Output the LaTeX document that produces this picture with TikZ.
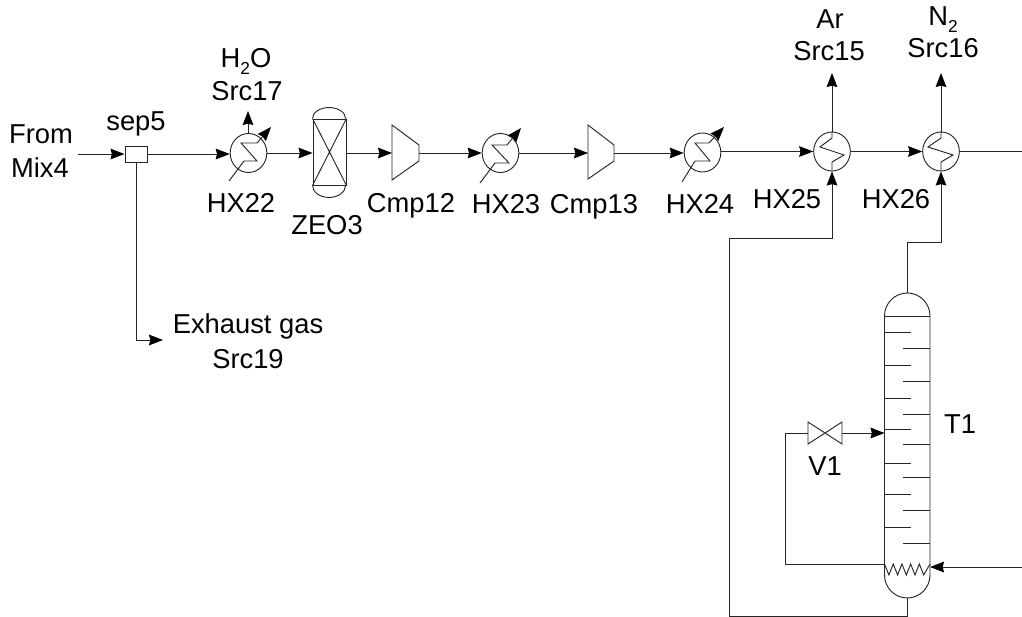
\documentclass[tikz,border=0pt]{standalone}
\usepackage{fontspec}
\setmainfont{Liberation Sans}
\usetikzlibrary{arrows.meta,shapes.geometric}
\newcommand{\subtwo}{\raisebox{-0.22em}{\fontsize{13pt}{14pt}\selectfont 2}}
\tikzset{
  x=0.75pt,y=-0.75pt,
  ln/.style={draw=black!85,line width=0.7pt},
  flow/.style={ln,-{Stealth[length=10.5pt,width=8pt,inset=1pt,color=black]}},
  hxbody/.style={ellipse,ln,minimum width=27.5pt,minimum height=29.25pt,inner sep=0pt},
  lab/.style={anchor=base,inner sep=0pt,font=\fontsize{20.5pt}{22pt}\selectfont},
  pt/.style={inner sep=0pt,minimum size=0pt}
}
\begin{document}
\begin{tikzpicture}
\useasboundingbox (0,0) rectangle (1022,617);
% equipment
\coordinate (in) at (78,154);
\node[ln,rectangle,minimum width=16.5pt,minimum height=12pt,inner sep=0pt] (sep5) at (136,154) {};
\node[hxbody] (hx22) at (248.5,153) {};
\node[hxbody] (hx23) at (500.5,153) {};
\node[hxbody] (hx24) at (702.5,152.5) {};
\node[hxbody] (hx25) at (832,151.5) {};
\node[hxbody] (hx26) at (941,151.5) {};
% ZEO3
\node[ln,rectangle,minimum width=24.75pt,minimum height=49.5pt,inner sep=0pt] (zeo) at (329.5,152) {};
\draw[ln] (zeo.north west) arc[start angle=180,end angle=0,x radius=16.5,y radius=-11];
\draw[ln] (zeo.south west) arc[start angle=180,end angle=360,x radius=16.5,y radius=-12];
\draw[ln] (zeo.north west) -- (zeo.south east) (zeo.north east) -- (zeo.south west);
% compressors
\coordinate (c12in) at (392,153); \coordinate (c12out) at (419,153);
\draw[ln] (392,125) -- (419,145) -- (419,161) -- (392,180) -- cycle;
\coordinate (c13in) at (588,153); \coordinate (c13out) at (614,153);
\draw[ln] (588,125) -- (614,145) -- (614,161) -- (588,179) -- cycle;
% HX zigzags
\draw[ln] (229,181) -- (244,161) -- (257,161) -- (241,143) -- (257,143);
\draw[flow] (257,143) -- (271,127);
\draw[ln] (480,183) -- (495,163) -- (509,163) -- (492,145) -- (507,145);
\draw[flow] (507,145) -- (521,128);
\draw[ln] (682,182) -- (695,161) -- (710,161) -- (695,143) -- (709,143);
\draw[flow] (709,143) -- (724,127);
\draw[ln] (hx25.north) -- (832,138) -- (820,147) -- (844,155) -- (832,162) -- (hx25.south);
\draw[ln] (hx26.north) -- (941,138) -- (928,147) -- (953,155) -- (941,162) -- (hx26.south);
% column
\coordinate (coltop) at (907,293);
\coordinate (colbot) at (907,598);
\draw[ln] (884.5,316) arc[start angle=180,end angle=0,x radius=22.75,y radius=-23] -- (930,575)
  arc[start angle=0,end angle=-180,x radius=22.75,y radius=-23] -- cycle;
\draw[ln] (884.5,316) -- (930,316);
\foreach \y in {332,365,398,429,463,494,527} \draw[ln] (884.5,\y) -- (911,\y);
\foreach \y in {348,381,414,444,477,510,543} \draw[ln] (903,\y) -- (930,\y);
\draw[ln] (884.5,564) -- (888.9,575) -- (893.2,564) -- (897.6,575) -- (901.9,564) -- (906.3,575) -- (910.6,564) -- (915,575) -- (919.3,564) -- (923.7,575) -- (930,564);
% valve
\coordinate (vl) at (808,433); \coordinate (vr) at (842,433);
\draw[ln] (808,422) -- (842,444) -- (842,422) -- (808,444) -- cycle;
% connectors
\coordinate (colfeed) at (884.5,433);
\coordinate (reb) at (884.5,564);
\coordinate (rebin) at (930,567);
\coordinate (right1) at (1022,151.5);
\coordinate (right2) at (1022,567);
\coordinate (exh) at (163,340);
\coordinate (ar) at (832,73);
\coordinate (n2) at (941,73);
\coordinate (h2o) at (248,111);
\coordinate (h2ob) at (248,133.5);
\draw[flow] (in) -- (sep5.west);
\draw[flow] (sep5.east) -- (hx22.west |- sep5.east);
\draw[flow] (sep5.south) |- (exh);
\draw[flow] (h2ob) -- (h2o);
\draw[flow] (hx22.east) -- (zeo.west |- hx22.east);
\draw[flow] (zeo.east |- c12in) -- (c12in);
\draw[flow] (c12out) -- (hx23.west);
\draw[flow] (hx23.east) -- (c13in);
\draw[flow] (c13out) -- (hx24.west |- c13out);
\draw[flow] (hx24.east |- hx25.west) -- (hx25.west);
\draw[flow] (hx25.east) -- (hx26.west);
\draw[ln] (hx26.east) -- (right1);
\draw[flow] (hx25.north) -- (ar);
\draw[flow] (hx26.north) -- (n2);
\draw[flow] (colbot) -- (907,616) -- (729,616) -- (729,238) -- (832,238) -- (hx25.south);
\draw[flow] (coltop) -- (907,242) -- (941,242) -- (hx26.south);
\draw[ln] (reb) -- (785,564) -- (785,433) -- (vl);
\draw[flow] (vr) -- (colfeed);
\draw[flow] (right2) -- (rebin);
% labels
\node[lab] (lfrom) at (41,143) {From};
\node[lab] (lmix) at (40,177) {Mix4};
\node[lab] (lsep) at (136,131) {sep5};
\node[lab] (lh2o) at (246,68) {H\subtwo O};
\node[lab] (ls17) at (247,101) {Src17};
\node[lab] (lhx22) at (241,212) {HX22};
\node[lab] (lzeo) at (327,234) {ZEO3};
\node[lab] (lc12) at (411,212) {Cmp12};
\node[lab] (lhx23) at (506,213) {HX23};
\node[lab] (lc13) at (594,213) {Cmp13};
\node[lab] (lhx24) at (700,213) {HX24};
\node[lab] (lhx25) at (787,209) {HX25};
\node[lab] (lhx26) at (896,208) {HX26};
\node[lab] (lar) at (830,29) {Ar};
\node[lab] (ls15) at (829,61) {Src15};
\node[lab] (ln2) at (943,26) {N\subtwo};
\node[lab] (ls16) at (943,58) {Src16};
\node[lab] (lexh) at (248,333) {Exhaust gas};
\node[lab] (ls19) at (248,368) {Src19};
\node[lab] (lv1) at (825,475) {V1};
\node[lab] (lt1) at (960,433) {T1};
\end{tikzpicture}
\end{document}
